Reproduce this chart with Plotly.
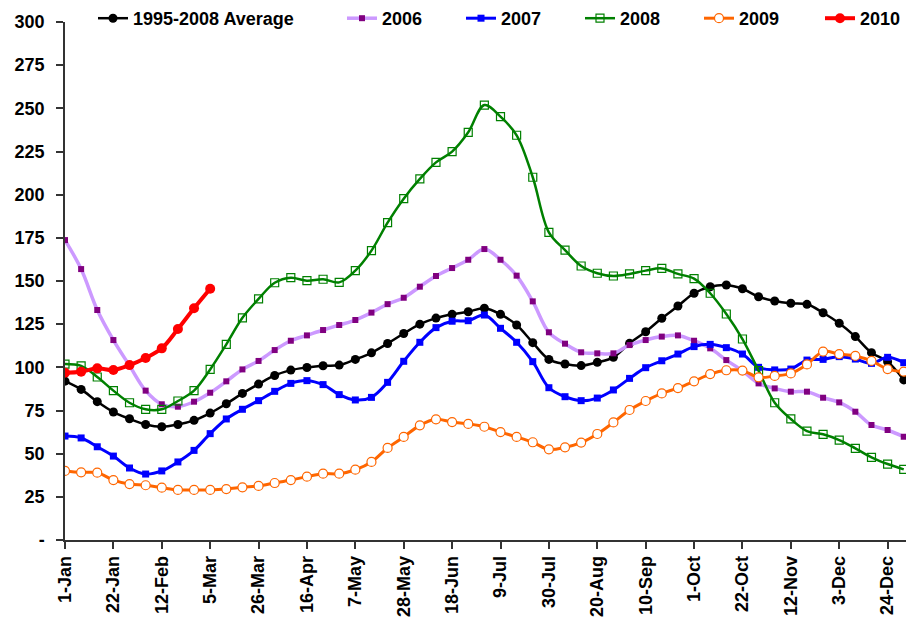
import plotly.graph_objects as go

weeks = list(range(53))
tick_pos = list(range(0, 52, 3))
tick_labels = ["1-Jan", "22-Jan", "12-Feb", "5-Mar", "26-Mar", "16-Apr", "7-May", "28-May",
               "18-Jun", "9-Jul", "30-Jul", "20-Aug", "10-Sep", "1-Oct", "22-Oct", "12-Nov",
               "3-Dec", "24-Dec"]
y_ticks = list(range(0, 301, 25))
y_labels = ["-"] + [str(v) for v in y_ticks[1:]]

avg = [92.0, 87.2, 80.1, 74.1, 70.2, 66.9, 65.6, 66.9, 69.3, 73.5,
       78.9, 84.9, 90.3, 95.3, 98.4, 99.9, 100.9, 101.3, 104.6, 108.4,
       113.8, 119.6, 125.0, 128.5, 130.7, 132.2, 134.2, 130.7, 124.5, 114.3,
       104.6, 101.9, 101.0, 102.9, 105.8, 113.9, 120.6, 128.4, 135.5, 142.9,
       146.7, 147.7, 145.5, 140.9, 138.4, 137.1, 136.5, 131.6, 125.5, 117.8,
       108.5, 103.3, 92.7]
y2006 = [173.7, 156.9, 133.2, 115.8, 101.0, 86.5, 78.6, 77.2, 80.1, 85.3,
         91.9, 98.8, 103.7, 110.0, 115.4, 118.5, 121.6, 124.5, 127.4, 131.7,
         136.6, 140.3, 146.7, 152.9, 157.5, 162.3, 168.5, 162.3, 153.1, 138.2,
         120.3, 113.7, 108.7, 108.1, 108.1, 112.9, 115.8, 117.8, 118.5, 115.4,
         111.0, 104.2, 98.0, 90.7, 87.8, 85.9, 85.9, 82.4, 79.7, 74.3,
         66.6, 63.7, 59.8]
y2007 = [60.2, 59.1, 54.0, 48.6, 41.7, 38.2, 40.0, 45.2, 51.9, 61.6,
         70.1, 75.7, 80.7, 86.1, 90.7, 92.3, 90.0, 84.2, 81.1, 82.6,
         91.3, 103.5, 114.5, 123.0, 126.7, 127.0, 130.3, 122.6, 114.5, 103.3,
         88.2, 83.0, 80.7, 82.2, 86.9, 93.6, 99.8, 103.8, 107.7, 112.0,
         113.3, 111.4, 107.7, 100.0, 98.5, 99.0, 104.2, 104.6, 106.2, 104.8,
         102.3, 105.8, 102.7]
y2008 = [101.9, 100.8, 94.4, 86.5, 79.5, 75.7, 75.7, 80.5, 86.5, 98.8,
         113.3, 128.7, 139.6, 149.0, 151.9, 150.2, 151.0, 149.2, 156.0, 167.6,
         183.8, 197.7, 209.1, 218.7, 224.9, 236.1, 251.9, 245.2, 234.4, 210.1,
         178.2, 167.9, 158.7, 154.5, 152.9, 154.1, 156.0, 157.3, 154.1, 151.4,
         142.9, 130.9, 116.4, 98.1, 79.5, 70.1, 63.1, 61.2, 57.9, 53.1,
         47.9, 44.0, 40.9]
y2009 = [40.0, 39.2, 39.0, 34.7, 32.4, 31.7, 30.3, 29.0, 29.0, 29.0,
         29.5, 30.5, 31.3, 33.0, 34.7, 36.7, 38.4, 38.4, 40.7, 45.2,
         53.3, 59.7, 66.4, 69.9, 68.3, 67.2, 65.6, 62.5, 59.7, 56.6,
         52.5, 53.7, 56.4, 61.4, 68.1, 75.3, 80.5, 84.9, 88.0, 91.9,
         96.1, 98.3, 98.1, 94.2, 95.0, 96.5, 101.7, 109.1, 107.7, 106.6,
         103.7, 99.0, 97.5]
y2010 = [96.9, 97.5, 99.4, 98.5, 101.3, 105.4, 111.0, 122.2, 134.2, 145.5]

FONT = "Arial, Liberation Sans, sans-serif"
W, H = 906, 619
ML, MR, MT, MB = 65, 0, 22, 79
PW, PH = W - ML - MR, H - MT - MB

fig = go.Figure()
fig.add_trace(go.Scatter(x=weeks, y=avg, name="1995-2008 Average", mode="lines+markers",
                         line=dict(color="#000000", width=2.5, shape="spline"),
                         marker=dict(symbol="circle", size=9, color="#000000"),
                         legend="legend"))
fig.add_trace(go.Scatter(x=weeks, y=y2006, name="2006", mode="lines+markers",
                         line=dict(color="#CC99FF", width=3.5, shape="spline"),
                         marker=dict(symbol="square", size=6, color="#800080"),
                         legend="legend2"))
fig.add_trace(go.Scatter(x=weeks, y=y2007, name="2007", mode="lines+markers",
                         line=dict(color="#0000FF", width=3, shape="spline"),
                         marker=dict(symbol="square", size=7, color="#0000FF"),
                         legend="legend2"))
fig.add_trace(go.Scatter(x=weeks, y=y2008, name="2008", mode="lines+markers",
                         line=dict(color="#008000", width=2.5, shape="spline"),
                         marker=dict(symbol="square-open", size=8, color="#008000",
                                     line=dict(width=1.2)),
                         legend="legend2"))
fig.add_trace(go.Scatter(x=weeks, y=y2009, name="2009", mode="lines+markers",
                         line=dict(color="#FF6600", width=3, shape="spline"),
                         marker=dict(symbol="circle", size=9, color="#FFFFFF",
                                     line=dict(color="#FF6600", width=1.2)),
                         legend="legend2"))
fig.add_trace(go.Scatter(x=list(range(len(y2010))), y=y2010, name="2010", mode="lines+markers",
                         line=dict(color="#FF0000", width=4, shape="spline"),
                         marker=dict(symbol="circle", size=10, color="#FF0000"),
                         legend="legend3"))


def px_x(px):
    return (px - ML) / PW


legend_y = 1 + (MT - 18) / PH
legend_common = dict(orientation="h", font=dict(family=FONT, size=18, color="#000000", weight="bold"),
                     bgcolor="rgba(0,0,0,0)", xref="paper", yref="paper",
                     yanchor="middle", y=legend_y, xanchor="left", borderwidth=0)
fig.update_layout(
    width=W, height=H,
    margin=dict(l=ML, r=MR, t=MT, b=MB, pad=0),
    showlegend=True,
    paper_bgcolor="#FFFFFF", plot_bgcolor="#FFFFFF",
    font=dict(family=FONT, color="#000000"),
    legend=dict(**legend_common, x=px_x(93)),
    legend2=dict(**legend_common, x=px_x(342), entrywidth=74),
    legend3=dict(**legend_common, x=px_x(820), entrywidth=40),
    xaxis=dict(range=[0, 52.14], tickmode="array", tickvals=tick_pos, ticktext=tick_labels,
               tickangle=-90, showgrid=False, zeroline=False, showline=True, automargin=False,
               linecolor="#333333", linewidth=1.5, ticks="outside", ticklen=7,
               tickcolor="#333333", tickwidth=1.5,
               tickfont=dict(family=FONT, size=18, color="#000000", weight="bold")),
    yaxis=dict(range=[0, 300], tickmode="array", tickvals=y_ticks, ticktext=y_labels,
               showgrid=False, zeroline=False, showline=True, automargin=False,
               linecolor="#333333", linewidth=1.5, ticks="outside", ticklen=7,
               tickcolor="#333333", tickwidth=1.5, ticklabelstandoff=8,
               tickfont=dict(family=FONT, size=18, color="#000000", weight="bold")),
)
fig.write_html("out.html", config={"displayModeBar": False},
               post_script="document.body.style.margin='0';")
